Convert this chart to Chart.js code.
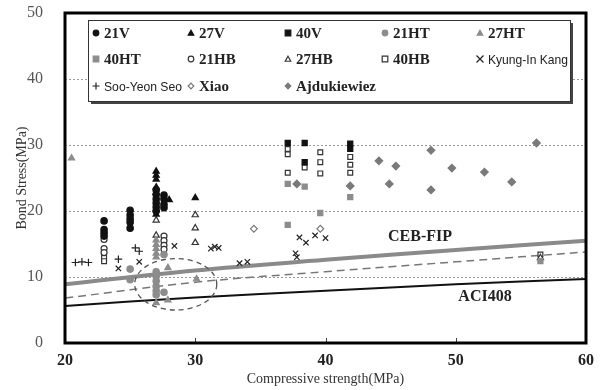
<!DOCTYPE html>
<html>
<head>
<meta charset="utf-8">
<script src="https://cdn.jsdelivr.net/npm/chart.js@4"></script>
<style>
  html, body { margin: 0; padding: 0; background: #fff; }
  #wrap { width: 602px; height: 390px; }
</style>
</head>
<body>
<div id="wrap"><canvas id="bondChart"></canvas></div>
<script>
// tick labels
const xTicks = [20, 30, 40, 50, 60];
const yTicks = [0, 10, 20, 30, 40, 50];

// test series (x = compressive strength MPa, y = bond stress MPa)
const v21 = [[23, 18.5], [23, 17.2], [23, 16.7], [23, 16.2],
  [25, 20.1], [25, 19.4], [25, 18.8], [25, 18.3], [25, 17.4],
  [27, 23.2], [27, 22.5], [27, 21.8], [27, 21.2], [27, 20.6], [27, 20.0],
  [27.6, 22.4], [27.6, 21.8], [27.6, 21.0], [27.6, 20.5]];
const v27 = [[27, 26.0], [27, 25.4], [27, 24.8], [27, 23.6], [27, 22.8], [27, 20.3], [27, 19.5],
  [28, 21.7], [30, 22.0]];
const v40 = [[37.1, 30.3], [38.4, 30.3], [38.4, 27.4], [41.9, 30.2], [41.9, 29.4]];
const ht21 = [[25, 11.2], [25, 9.6], [27, 10.8], [27, 10.1], [27, 9.4], [27, 8.6], [27, 7.9], [27, 7.3],
  [27.6, 7.7], [27.6, 13.4]];
const ht27 = [[20.5, 28.0], [27, 15.6], [27, 14.9], [27, 14.3], [27, 13.6], [27, 13.0],
  [27.9, 11.4], [30.1, 9.7], [27, 6.1], [27.9, 6.5]];
const ht40 = [[37.1, 24.1], [37.1, 17.9], [38.4, 23.7], [39.6, 19.7], [41.9, 22.1], [56.5, 12.4]];
const hb21 = [[23, 15.7], [23, 14.3], [23, 13.7], [27.6, 16.2], [27.6, 15.5], [27.6, 14.8], [27.6, 14.2]];
const hb27 = [[27, 18.6], [27, 16.3], [30, 19.4], [30, 17.4], [30, 15.2], [56.5, 12.9]];
const hb40 = [[23, 12.9], [23, 12.4], [37.1, 29.4], [37.1, 28.6], [37.1, 25.8], [38.4, 26.6],
  [39.6, 28.9], [39.6, 27.4], [39.6, 25.7], [41.9, 28.2], [41.9, 27.0], [41.9, 25.8], [56.5, 13.4]];
const kang = [[24.1, 11.3], [25.7, 12.3], [28.4, 14.7], [31.2, 14.3], [31.5, 14.6], [31.8, 14.4],
  [33.4, 12.1], [34.0, 12.3], [37.7, 13.6], [37.8, 13.0], [38.0, 16.0], [38.5, 15.2], [39.2, 16.3], [40.0, 15.9]];
const seo = [[20.8, 12.2], [21.3, 12.3], [21.8, 12.2], [24.1, 12.7], [25.4, 14.4], [25.7, 13.9]];
const xiao = [[34.5, 17.3], [39.6, 17.3]];
const ajdu = [[37.8, 24.1], [41.9, 23.8], [44.1, 27.6], [45.4, 26.8], [44.9, 24.1], [48.1, 29.2],
  [48.1, 23.2], [49.7, 26.5], [52.2, 25.9], [54.3, 24.4], [56.2, 30.3]];

// code curves
const curveX = [20, 30, 40, 50, 60];
const cebFip = [8.9, 11.0, 12.6, 14.1, 15.5];
const aci408 = [5.6, 6.9, 7.9, 8.9, 9.7];
const dashedFit = [6.8, 9.2, 10.8, 12.3, 13.8];

// dashed ellipse around the HT group (data units)
const ringCenter = [28.5, 8.9];
const ringRadius = [3.15, 3.9];

const BLACK = "#111";
const GRAY = "#8c8c8c";

function pts(arr) { return arr.map(p => ({ x: p[0], y: p[1] })); }
function curve(ys) { return curveX.map((x, i) => ({ x: x, y: ys[i] })); }

function marker(label, data, style, fill, stroke, r, font, squeeze) {
  return {
    label: label, data: pts(data), pointStyle: style,
    backgroundColor: fill, borderColor: stroke, pointBackgroundColor: fill, pointBorderColor: stroke,
    pointRadius: r, pointBorderWidth: 1.2, showLine: false, order: 1,
    legendFont: font, legendWidth: squeeze || 0
  };
}

const serifB = "bold 15px 'Liberation Serif'";
const sans = "13px 'Liberation Sans'";

const markerSets = [
  marker("21V", v21, "circle", BLACK, BLACK, 3.2, serifB),
  marker("27V", v27, "triangle", BLACK, BLACK, 3.6, serifB),
  marker("40V", v40, "rect", BLACK, BLACK, 3.6, serifB),
  marker("21HT", ht21, "circle", GRAY, GRAY, 3.2, serifB),
  marker("27HT", ht27, "triangle", GRAY, GRAY, 3.6, serifB),
  marker("40HT", ht40, "rect", GRAY, GRAY, 3.6, serifB),
  marker("21HB", hb21, "circle", "#fff", "#333", 3.0, serifB),
  marker("27HB", hb27, "triangle", "#fff", "#333", 3.6, serifB),
  marker("40HB", hb40, "rect", "#fff", "#333", 3.4, serifB),
  marker("Kyung-In Kang", kang, "crossRot", BLACK, "#222", 3.8, sans, 80),
  marker("Soo-Yeon Seo", seo, "cross", BLACK, "#222", 3.8, sans, 78),
  marker("Xiao", xiao, "rectRot", "#fff", "#777", 3.4, serifB),
  marker("Ajdukiewiez", ajdu, "rectRot", "#7a7a7a", "#7a7a7a", 3.8, serifB)
];

const lineSets = [
  { label: "CEB-FIP", data: curve(cebFip), showLine: true, borderColor: "#8a8a8a", borderWidth: 4,
    pointRadius: 0, tension: 0.4, order: 5 },
  { label: "dashed", data: curve(dashedFit), showLine: true, borderColor: "#777", borderWidth: 1.5,
    borderDash: [8, 5], pointRadius: 0, tension: 0.4, order: 5 },
  { label: "ACI408", data: curve(aci408), showLine: true, borderColor: BLACK, borderWidth: 2,
    pointRadius: 0, tension: 0.4, order: 5 }
];

function drawSymbol(ctx, style, x, y, r, fill, stroke) {
  ctx.save();
  ctx.fillStyle = fill; ctx.strokeStyle = stroke; ctx.lineWidth = 1.2;
  ctx.beginPath();
  if (style === "circle") {
    ctx.arc(x, y, r, 0, Math.PI * 2); ctx.fill(); ctx.stroke();
  } else if (style === "triangle") {
    ctx.moveTo(x, y - r); ctx.lineTo(x + r, y + r * 0.8); ctx.lineTo(x - r, y + r * 0.8); ctx.closePath();
    ctx.fill(); ctx.stroke();
  } else if (style === "rect") {
    ctx.rect(x - r, y - r, 2 * r, 2 * r); ctx.fill(); ctx.stroke();
  } else if (style === "rectRot") {
    ctx.moveTo(x, y - r); ctx.lineTo(x + r, y); ctx.lineTo(x, y + r); ctx.lineTo(x - r, y); ctx.closePath();
    ctx.fill(); ctx.stroke();
  } else if (style === "crossRot") {
    ctx.moveTo(x - r, y - r); ctx.lineTo(x + r, y + r); ctx.moveTo(x + r, y - r); ctx.lineTo(x - r, y + r); ctx.stroke();
  } else if (style === "cross") {
    ctx.moveTo(x - r, y); ctx.lineTo(x + r, y); ctx.moveTo(x, y - r); ctx.lineTo(x, y + r); ctx.stroke();
  }
  ctx.restore();
}

const extras = {
  id: "extras",
  beforeDatasetsDraw(chart) {
    // dotted horizontal grid
    const ctx = chart.ctx, a = chart.chartArea, ys = chart.scales.y;
    ctx.save();
    ctx.strokeStyle = "#999"; ctx.lineWidth = 1; ctx.setLineDash([2, 2]);
    yTicks.filter(v => v > 0 && v < 50).forEach(v => {
      const py = Math.round(ys.getPixelForValue(v)) + 0.5;
      ctx.beginPath(); ctx.moveTo(a.left, py); ctx.lineTo(a.right, py); ctx.stroke();
    });
    ctx.restore();
  },
  afterDatasetsDraw(chart) {
    const ctx = chart.ctx, a = chart.chartArea;
    const xs = chart.scales.x, ys = chart.scales.y;

    // dashed ring
    const cx = xs.getPixelForValue(ringCenter[0]), cy = ys.getPixelForValue(ringCenter[1]);
    const rx = xs.getPixelForValue(ringCenter[0] + ringRadius[0]) - cx;
    const ry = cy - ys.getPixelForValue(ringCenter[1] + ringRadius[1]);
    ctx.save();
    ctx.strokeStyle = "#555"; ctx.lineWidth = 1.3; ctx.setLineDash([5, 4]);
    ctx.beginPath(); ctx.ellipse(cx, cy, rx, ry, 0, 0, Math.PI * 2); ctx.stroke();
    ctx.restore();

    // curve labels
    ctx.save();
    ctx.fillStyle = "#222"; ctx.font = "bold 16px 'Liberation Serif'"; ctx.textBaseline = "middle";
    ctx.fillText("CEB-FIP", xs.getPixelForValue(44.8), ys.getPixelForValue(16.1));
    ctx.fillText("ACI408", xs.getPixelForValue(50.2), ys.getPixelForValue(7.0));
    ctx.restore();

    // little inward ticks on the bottom axis
    ctx.save();
    ctx.strokeStyle = "#444"; ctx.lineWidth = 1;
    xTicks.forEach(v => {
      const px = Math.round(xs.getPixelForValue(v)) + 0.5;
      ctx.beginPath(); ctx.moveTo(px, a.bottom); ctx.lineTo(px, a.bottom - 5); ctx.stroke();
    });
    ctx.restore();

    // legend box with shadow
    const bx = 88, by = 20, bw = 482, bh = 81;
    ctx.save();
    ctx.fillStyle = "#444"; ctx.fillRect(bx + 3, by + 3, bw, bh);
    ctx.fillStyle = "#fff"; ctx.fillRect(bx, by, bw, bh);
    ctx.strokeStyle = "#333"; ctx.lineWidth = 1; ctx.strokeRect(bx + 0.5, by + 0.5, bw, bh);
    const cols = [96, 191, 288, 385, 480], rows = [33, 59, 86];
    markerSets.forEach((d, i) => {
      const mx = cols[i % 5], my = rows[Math.floor(i / 5)];
      const r = d.pointStyle === "crossRot" || d.pointStyle === "cross" ? 3.5 : 2.8;
      drawSymbol(ctx, d.pointStyle, mx, my, r, d.pointBackgroundColor, d.pointBorderColor);
      ctx.save();
      ctx.fillStyle = "#222"; ctx.font = d.legendFont; ctx.textBaseline = "middle";
      const tx = mx + 8;
      if (d.legendWidth) {
        const k = Math.min(1, d.legendWidth / ctx.measureText(d.label).width);
        ctx.translate(tx, my + 1); ctx.scale(k, 1); ctx.fillText(d.label, 0, 0);
      } else {
        ctx.fillText(d.label, tx, my + 1);
      }
      ctx.restore();
    });
    ctx.restore();

    // heavy frame
    ctx.save();
    ctx.strokeStyle = "#000"; ctx.lineWidth = 3;
    ctx.strokeRect(a.left, a.top, a.right - a.left, a.bottom - a.top);
    ctx.restore();
  }
};

new Chart(document.getElementById("bondChart"), {
  type: "scatter",
  data: { datasets: markerSets.concat(lineSets) },
  options: {
    responsive: true,
    maintainAspectRatio: false,
    animation: false,
    layout: { padding: { left: 0, right: 16, top: 13, bottom: 0 } },
    plugins: { legend: { display: false }, tooltip: { enabled: false } },
    scales: {
      x: {
        type: "linear", min: 20, max: 60,
        afterBuildTicks: s => { s.ticks = xTicks.map(v => ({ value: v })); },
        afterFit: s => { s.height = 47; s.paddingLeft = 0; s.paddingRight = 0; },
        grid: { display: false },
        border: { display: false },
        ticks: { padding: 0, color: "#222", font: { family: "Liberation Serif", size: 16, weight: "bold" } },
        title: { display: true, text: "Compressive strength(MPa)", color: "#333", padding: { top: 0, bottom: 2 },
          font: { family: "Liberation Serif", size: 14 } }
      },
      y: {
        type: "linear", min: 0, max: 50,
        afterBuildTicks: s => { s.ticks = yTicks.map(v => ({ value: v })); },
        afterFit: s => { s.width = 65; s.paddingTop = 0; s.paddingBottom = 0; },
        grid: { display: false },
        border: { display: false },
        ticks: { padding: 14, color: "#555", font: { family: "Liberation Serif", size: 16 } },
        title: { display: true, text: "Bond Stress(MPa)", color: "#333", padding: { top: 14, bottom: 0 },
          font: { family: "Liberation Serif", size: 14 } }
      }
    }
  },
  plugins: [extras]
});
</script>
</body>
</html>
